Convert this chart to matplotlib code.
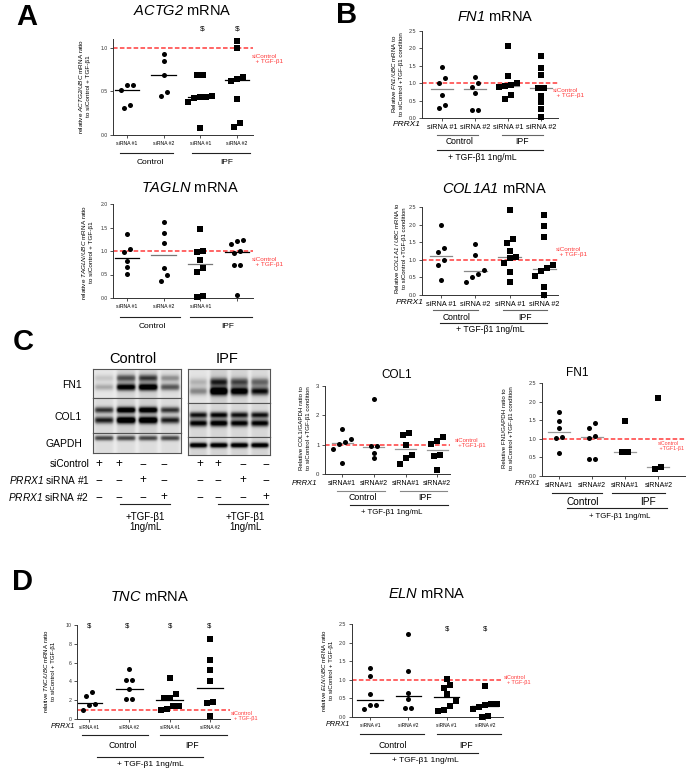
import numpy as np
import matplotlib
matplotlib.use('Agg')
import matplotlib.pyplot as plt
from matplotlib.lines import Line2D

plt.rcParams['font.family'] = ['Liberation Sans', 'DejaVu Sans']
plt.rcParams['mathtext.fontset'] = 'custom'
plt.rcParams['mathtext.rm'] = 'Liberation Sans'
plt.rcParams['mathtext.it'] = 'Liberation Sans:italic'
plt.rcParams['mathtext.bf'] = 'Liberation Sans:bold'
# \mathcal is used as "italic incl. digits" (mathit keeps digits upright)
plt.rcParams['mathtext.cal'] = 'Liberation Sans:italic'

# ---------------- data ----------------
# A: ACTG2 mRNA
actg2_ctrl1 = [0.57, 0.57, 0.52, 0.31, 0.34]
actg2_ctrl2 = [0.93, 0.85, 0.69, 0.45, 0.49]
actg2_ipf1 = [0.69, 0.69, 0.44, 0.42, 0.38, 0.44, 0.45, 0.08]
actg2_ipf2 = [1.08, 1.00, 0.64, 0.67, 0.62, 0.41, 0.14, 0.09]
actg2_med = [0.51, 0.69, 0.44, 0.63]

# A: TAGLN mRNA
tagln_ctrl1 = [1.37, 1.04, 0.97, 0.78, 0.66, 0.52]
tagln_ctrl2 = [1.62, 1.38, 1.18, 0.63, 0.48, 0.37]
tagln_ipf1 = [1.47, 1.00, 0.97, 0.81, 0.63, 0.56, 0.03, 0.04]
tagln_ipf2 = [1.21, 1.24, 1.15, 0.99, 0.95, 0.71, 0.71, 0.07]
tagln_med = [0.85, 0.91, 0.72, 0.97]

# B: FN1 mRNA
fn1m_ctrl1 = [1.47, 1.16, 1.02, 0.65, 0.36, 0.30]
fn1m_ctrl2 = [1.19, 1.02, 0.90, 0.73, 0.24, 0.24]
fn1m_ipf1 = [2.07, 1.21, 1.00, 0.94, 0.91, 0.88, 0.67, 0.55]
fn1m_ipf2 = [1.78, 1.43, 1.25, 0.87, 0.86, 0.62, 0.45, 0.26, 0.03]
fn1m_med = [0.83, 0.82, 0.91, 0.86]

# B: COL1A1 mRNA
col1a1_ctrl1 = [1.98, 1.34, 1.23, 0.99, 0.86, 0.44]
col1a1_ctrl2 = [1.46, 1.15, 0.72, 0.61, 0.50, 0.38]
col1a1_ipf1 = [2.42, 1.58, 1.47, 1.25, 1.07, 1.04, 0.91, 0.64, 0.38]
col1a1_ipf2 = [2.26, 1.95, 1.65, 0.84, 0.76, 0.68, 0.54, 0.23, 0.00]
col1a1_med = [1.10, 0.67, 1.07, 0.75]

# C: COL1 / GAPDH protein
col1p_ctrl1 = [1.55, 1.20, 1.08, 1.02, 0.85, 0.38]
col1p_ctrl2 = [2.56, 0.96, 0.94, 0.73, 0.53]
col1p_ipf1 = [1.41, 1.33, 1.00, 0.65, 0.53, 0.35]
col1p_ipf2 = [1.27, 1.14, 1.02, 0.65, 0.62, 0.12]
col1p_med = [1.05, 0.92, 0.84, 0.81]

# C: FN1 / GAPDH protein
fn1p_ctrl1 = [1.71, 1.48, 1.29, 1.05, 1.03, 0.63]
fn1p_ctrl2 = [1.43, 1.29, 1.08, 1.03, 0.45, 0.47]
fn1p_ipf1 = [1.47, 0.65, 0.65]
fn1p_ipf2 = [2.10, 0.20, 0.25]
fn1p_med = [1.17, 1.05, 0.65, 0.25]

# D: TNC mRNA
tnc_ctrl1 = [2.85, 2.45, 1.60, 1.50, 0.95]
tnc_ctrl2 = [5.30, 4.10, 4.10, 3.20, 2.10, 2.10]
tnc_ipf1 = [4.40, 2.70, 2.20, 2.20, 1.40, 1.40, 1.10, 1.00]
tnc_ipf2 = [8.50, 6.30, 5.20, 4.00, 1.80, 1.75, 0.30]
tnc_med = [1.75, 3.20, 2.00, 3.35]

# D: ELN mRNA
eln_ctrl1 = [1.33, 1.09, 0.63, 0.31, 0.22, 0.31]
eln_ctrl2 = [2.22, 1.25, 0.64, 0.48, 0.24, 0.24]
eln_ipf1 = [1.02, 0.85, 0.78, 0.63, 0.42, 0.29, 0.17, 0.18]
eln_ipf2 = [0.83, 0.36, 0.27, 0.21, 0.31, 0.36, 0.00, 0.02]
eln_med = [0.47, 0.57, 0.53, 0.30]

# western blot band intensities per lane (siCtrl, siCtrl+TGF, #1+TGF, #2+TGF)
blot_fn1_ctrl = [0.25, 0.80, 0.90, 0.50]
blot_fn1_ipf = [0.35, 1.00, 0.85, 0.70]
blot_col1_ctrl = [0.65, 0.95, 0.95, 0.65]
blot_col1_ipf = [0.75, 0.80, 0.75, 0.75]
blot_gapdh_ctrl = [0.55, 0.55, 0.55, 0.55]
blot_gapdh_ipf = [0.85, 0.85, 0.85, 0.85]

sicontrol_signs = ['+', '+', '−', '−']
sirna1_signs = ['−', '−', '+', '−']
sirna2_signs = ['−', '−', '−', '+']

ticks_sp = ['siRNA #1', 'siRNA #2', 'siRNA #1', 'siRNA #2']
ticks_nosp = ['siRNA#1', 'siRNA#2', 'siRNA#1', 'siRNA#2']

RED = '#ff3b3b'
W, H = 690, 770
fig = plt.figure(figsize=(6.9, 7.7), dpi=100)
fig.patch.set_facecolor('white')


def px_axes(left, right, top, bottom):
    return fig.add_axes([left / W, 1 - bottom / H, (right - left) / W, (bottom - top) / H])


def ftext(x, y, s, **kw):
    kw.setdefault('ha', 'center')
    kw.setdefault('va', 'center')
    fig.text(x / W, 1 - y / H, s, **kw)


def fline(x0, x1, y, lw=0.8, color='#222222'):
    fig.add_artist(Line2D([x0 / W, x1 / W], [1 - y / H, 1 - y / H],
                          transform=fig.transFigure, lw=lw, color=color))


def swarm(vals, ppu_y, step=6.0, size=5.5):
    # spread points that would overlap into centred rows (pixel units)
    vals = np.asarray(vals, float)
    order = np.argsort(vals)
    offs = np.zeros(len(vals))
    rows = []
    for idx in order:
        if rows and (vals[idx] - vals[rows[-1][-1]]) * ppu_y < size:
            rows[-1].append(idx)
        else:
            rows.append([idx])
    for row in rows:
        n = len(row)
        for j, idx in enumerate(row):
            offs[idx] = (j - (n - 1) / 2) * step
    return offs


def dot_chart(box, ylim, yticks, yfmt, xlim, groups, medians, markers, med_colors,
              xlabels, xfs, yfs):
    left, right, top, bottom = box
    ax = px_axes(left, right, top, bottom)
    ppu_y = (bottom - top) / (ylim[1] - ylim[0])
    ppu_x = (right - left) / (xlim[1] - xlim[0])
    for i, vals in enumerate(groups):
        offs = swarm(vals, ppu_y) / ppu_x
        ax.scatter(i + offs, vals, s=13, marker=markers[i], color='k', lw=0,
                   clip_on=False, zorder=3)
        ax.plot([i - 0.33, i + 0.33], [medians[i]] * 2, color=med_colors[i],
                lw=0.9, zorder=2)
    ax.axhline(1.0, color=RED, lw=1.1, ls=(0, (3, 1.5)), zorder=1)
    ax.set_xlim(*xlim)
    ax.set_ylim(*ylim)
    ax.set_yticks(yticks)
    ax.set_yticklabels([yfmt.format(t) for t in yticks], fontsize=yfs, color='#333333')
    ax.set_xticks(range(4))
    ax.set_xticklabels(xlabels, fontsize=xfs)
    for s in ['top', 'right']:
        ax.spines[s].set_visible(False)
    for s in ['left', 'bottom']:
        ax.spines[s].set_linewidth(0.7)
        ax.spines[s].set_color('#333333')
    ax.tick_params(axis='both', length=2.5, width=0.6, pad=1.5, color='#333333')
    ax.patch.set_alpha(0)
    return ax


def red_label(x, y, l1, l2, fs=4.6, indent='  '):
    ftext(x, y, l1 + '\n' + indent + l2, ha='left', color=RED, fontsize=fs, linespacing=1.2)


circ4 = ['o', 'o', 's', 's']

# ---------------- panel A ----------------
ftext(27, 17, 'A', fontsize=21, fontweight='bold')
ftext(182, 11, r'$\mathcal{ACTG2}$ mRNA', fontsize=10.5)
dot_chart((113, 253, 39, 135), (0, 1.1), [0, 0.5, 1.0], '{:.1f}', (-0.38, 3.44),
          [actg2_ctrl1, actg2_ctrl2, actg2_ipf1, actg2_ipf2], actg2_med, circ4,
          ['k'] * 4, ticks_sp, 3.7, 3.7)
ftext(84, 86, 'relative $\\mathcal{ACTG2/UBC}$ mRNA ratio\nto siControl + TGF-β1',
      rotation=90, fontsize=4.6, linespacing=1.3)
for x in [202, 237]:
    ftext(x, 29, '$', fontsize=6)
red_label(252, 59, 'siControl', '+ TGF-β1')
fline(120, 173, 153)
fline(192, 250, 153)
ftext(150, 163, 'Control', fontsize=6)
ftext(227, 163, 'IPF', fontsize=6)

ftext(190, 188, r'$\mathcal{TAGLN}$ mRNA', fontsize=10.5)
dot_chart((113, 253, 204, 298), (0, 2.0), [0, 0.5, 1.0, 1.5, 2.0], '{:.1f}', (-0.38, 3.44),
          [tagln_ctrl1, tagln_ctrl2, tagln_ipf1, tagln_ipf2], tagln_med,
          ['o', 'o', 's', 'o'], ['k', '#777777', '#777777', 'k'],
          ['siRNA #1', 'siRNA #2', 'siRNA #1', ''], 3.7, 3.7)
ftext(87, 252, 'relative $\\mathcal{TAGLN/UBC}$ mRNA ratio\nto siControl + TGF-β1',
      rotation=90, fontsize=4.6, linespacing=1.3)
red_label(252, 262, 'siControl', '+ TGF-β1')
fline(120, 180, 317)
fline(190, 252, 317)
ftext(152, 327, 'Control', fontsize=6)
ftext(228, 327, 'IPF', fontsize=6)

# ---------------- panel B ----------------
ftext(347, 15, 'B', fontsize=21, fontweight='bold')
ftext(495, 17, r'$\mathcal{FN1}$ mRNA', fontsize=10.5)
dot_chart((422, 558, 31, 118), (0, 2.5), [0, 0.5, 1.0, 1.5, 2.0, 2.5], '{:.1f}', (-0.6, 3.5),
          [fn1m_ctrl1, fn1m_ctrl2, fn1m_ipf1, fn1m_ipf2], fn1m_med, circ4,
          ['#888888'] * 4, ticks_sp, 5.2, 4.0)
ftext(397, 74, 'Relative $\\mathcal{FN1/UBC}$ mRNA to\nto siControl +TGF-β1 condition',
      rotation=90, fontsize=4.4, linespacing=1.3)
ftext(407, 125, 'PRRX1', fontsize=6, style='italic')
red_label(553, 93, 'siControl', '+ TGF-β1')
fline(437, 478, 135, color='#666666')
fline(502, 543, 135, color='#666666')
ftext(460, 142, 'Control', fontsize=6.2)
ftext(522, 142, 'IPF', fontsize=6.2)
fline(437, 543, 150)
ftext(482, 158, '+ TGF-β1 1ng/mL', fontsize=6.2)

ftext(495, 189, r'$\mathcal{COL1A1}$ mRNA', fontsize=10.5)
dot_chart((422, 558, 207, 295), (0, 2.5), [0, 0.5, 1.0, 1.5, 2.0, 2.5], '{:.1f}', (-0.55, 3.4),
          [col1a1_ctrl1, col1a1_ctrl2, col1a1_ipf1, col1a1_ipf2], col1a1_med, circ4,
          ['#888888'] * 4, ticks_sp, 5.2, 4.0)
ftext(400, 248, 'Relative $\\mathcal{COL1A1}$ / $\\mathcal{UBC}$ mRNA to\nto siControl +TGF-β1 condition',
      rotation=90, fontsize=4.3, linespacing=1.3)
ftext(410, 302, 'PRRX1', fontsize=6, style='italic')
red_label(556, 252, 'siControl', '+ TGF-β1')
fline(433, 478, 310, color='#666666')
fline(503, 547, 310, color='#666666')
ftext(457, 317, 'Control', fontsize=6.2)
ftext(525, 317, 'IPF', fontsize=6.2)
fline(440, 547, 323)
ftext(490, 330, '+ TGF-β1 1ng/mL', fontsize=6.2)

# ---------------- panel C: blots ----------------
ftext(23, 342, 'C', fontsize=21, fontweight='bold')
ftext(133, 359, 'Control', fontsize=10.5)
ftext(227, 359, 'IPF', fontsize=10.5)


def blot_section(box, lanes, bands):
    left, right, top, bottom = box
    ax = px_axes(left, right, top, bottom)
    h, w = int((bottom - top) * 4), int((right - left) * 4)
    yy, xx = np.mgrid[0:h, 0:w]
    img = np.full((h, w), 0.13)
    lw = w / 4
    for i, amp in enumerate(lanes):
        cx = (i + 0.5) * lw
        xprof = 1 / (1 + np.exp((np.abs(xx - cx) - 0.42 * lw) / 3.0))
        for pos, rel, thick in bands:
            yprof = np.exp(-((yy - pos * h) / (thick * h)) ** 2)
            img += amp * rel * xprof * yprof
        # faint smear along the lane
        img += 0.15 * amp * xprof
    ax.imshow(np.clip(img, 0, 1), cmap='Greys', vmin=0, vmax=0.95, aspect='auto',
              interpolation='bilinear')
    ax.set_xticks([])
    ax.set_yticks([])
    for s in ax.spines.values():
        s.set_linewidth(0.8)
        s.set_color('#555555')


blot_section((93, 181, 369, 398), blot_fn1_ctrl, [(0.31, 0.6, 0.12), (0.62, 1.0, 0.12)])
blot_section((93, 181, 398, 433), blot_col1_ctrl, [(0.34, 0.9, 0.09), (0.63, 1.0, 0.10)])
blot_section((93, 181, 433, 453), blot_gapdh_ctrl, [(0.25, 1.0, 0.13)])
blot_section((188, 270, 369, 403), blot_fn1_ipf, [(0.38, 0.6, 0.12), (0.65, 1.0, 0.12)])
blot_section((188, 270, 403, 437), blot_col1_ipf, [(0.35, 0.9, 0.09), (0.59, 1.0, 0.10)])
blot_section((188, 270, 437, 455), blot_gapdh_ipf, [(0.45, 1.0, 0.14)])

ftext(82, 385, 'FN1', fontsize=7.5, ha='right')
ftext(82, 417, 'COL1', fontsize=7.5, ha='right')
ftext(82, 444, 'GAPDH', fontsize=7.5, ha='right')
ftext(90, 464, 'siControl', fontsize=7.3, ha='right')
ftext(90, 480, r'$\mathcal{PRRX1}$ siRNA #1', fontsize=7.3, ha='right')
ftext(89, 497, r'$\mathcal{PRRX1}$ siRNA #2', fontsize=7.3, ha='right')
lane_x_ctrl = [99, 119, 143, 164]
lane_x_ipf = [200, 218, 243, 266]
for xs in [lane_x_ctrl, lane_x_ipf]:
    for row_y, signs in zip([464, 480, 497], [sicontrol_signs, sirna1_signs, sirna2_signs]):
        for x, sgn in zip(xs, signs):
            ftext(x, row_y, sgn, fontsize=8.5)
fline(120, 170, 504)
fline(218, 268, 504)
ftext(145, 522, '+TGF-β1\n1ng/mL', fontsize=7, linespacing=0.95)
ftext(245, 522, '+TGF-β1\n1ng/mL', fontsize=7, linespacing=0.95)

# ---------------- panel C: quantification ----------------
ftext(397, 375, 'COL1', fontsize=8.5)
dot_chart((325, 450, 386, 474), (0, 3), [0, 1, 2, 3], '{:.0f}', (-0.54, 3.4),
          [col1p_ctrl1, col1p_ctrl2, col1p_ipf1, col1p_ipf2], col1p_med, circ4,
          ['#999999'] * 4, ticks_nosp, 5.0, 4.3)
ftext(305, 428, 'Relative COL1/GAPDH ratio to\nto siControl +TGF-β1 condition',
      rotation=90, fontsize=4.4, linespacing=1.3)
ftext(305, 483, 'PRRX1', fontsize=5.5, style='italic')
red_label(455, 443, 'siControl', '+TGF1-β1', fs=4.3)
fline(337, 385, 491, color='#888888')
fline(400, 447, 491, color='#888888')
ftext(363, 498, 'Control', fontsize=6.3)
ftext(425, 498, 'IPF', fontsize=6.3)
fline(350, 448, 505)
ftext(392, 513, '+ TGF-β1 1ng/mL', fontsize=5.6)

ftext(577, 373, 'FN1', fontsize=8.5)
dot_chart((542, 685, 383, 476), (0, 2.5), [0, 0.5, 1.0, 1.5, 2.0, 2.5], '{:.1f}', (-0.5, 3.8),
          [fn1p_ctrl1, fn1p_ctrl2, fn1p_ipf1, fn1p_ipf2], fn1p_med, circ4,
          ['#999999'] * 4, ticks_nosp, 5.0, 4.0)
ftext(508, 428, 'Relative FN1/GAPDH ratio to\nto siControl +TGF-β1 condition',
      rotation=90, fontsize=4.4, linespacing=1.3)
ftext(528, 483, 'PRRX1', fontsize=5.5, style='italic')
red_label(658, 446, 'siControl', '+TGF1-β1', fs=3.8, indent=' ')
fline(552, 602, 493)
fline(612, 665, 493)
ftext(583, 502, 'Control', fontsize=7.3)
ftext(648, 502, 'IPF', fontsize=7.3)
fline(567, 667, 508)
ftext(620, 516, '+ TGF-β1 1ng/mL', fontsize=5.6)

# ---------------- panel D ----------------
ftext(22, 582, 'D', fontsize=21, fontweight='bold')
ftext(150, 597, r'$\mathcal{TNC}$ mRNA', fontsize=10.5)
dot_chart((77, 230, 625, 719), (0, 10), [0, 2, 4, 6, 8, 10], '{:.0f}', (-0.3, 3.5),
          [tnc_ctrl1, tnc_ctrl2, tnc_ipf1, tnc_ipf2], tnc_med, circ4,
          ['k'] * 4, ticks_sp, 3.4, 3.8)
ftext(49, 671, 'relative $\\mathcal{TNC/UBC}$ mRNA ratio\nto siControl + TGF-β1',
      rotation=90, fontsize=4.4, linespacing=1.3)
for x in [89, 127, 170, 209]:
    ftext(x, 626, '$', fontsize=5.5)
ftext(63, 726, 'PRRX1', fontsize=5.2, style='italic')
red_label(231, 716, 'siControl', '+ TGF-β1', fs=4.0)
fline(82, 148, 735)
fline(160, 227, 735)
ftext(123, 746, 'Control', fontsize=6.3)
ftext(192, 746, 'IPF', fontsize=6.3)
fline(97, 203, 757)
ftext(150, 765, '+ TGF-β1 1ng/mL', fontsize=6)

ftext(427, 594, r'$\mathcal{ELN}$ mRNA', fontsize=10.5)
dot_chart((352, 503, 624, 717), (0, 2.5), [0, 0.5, 1.0, 1.5, 2.0, 2.5], '{:.1f}', (-0.47, 3.47),
          [eln_ctrl1, eln_ctrl2, eln_ipf1, eln_ipf2], eln_med, circ4,
          ['k'] * 4, ticks_sp, 3.5, 3.8)
ftext(327, 670, 'relative $\\mathcal{ELN/UBC}$ mRNA ratio\nto siControl + TGF-β1',
      rotation=90, fontsize=4.4, linespacing=1.3)
for x in [447, 485]:
    ftext(x, 629, '$', fontsize=5.5)
ftext(338, 725, 'PRRX1', fontsize=5.2, style='italic')
red_label(504, 680, 'siControl', '+ TGF-β1', fs=4.0)
fline(360, 424, 734)
fline(437, 501, 734)
ftext(393, 745, 'Control', fontsize=6.3)
ftext(466, 745, 'IPF', fontsize=6.3)
fline(370, 478, 753)
ftext(425, 761, '+ TGF-β1 1ng/mL', fontsize=6)

fig.savefig('out.png', dpi=100, facecolor='white')
